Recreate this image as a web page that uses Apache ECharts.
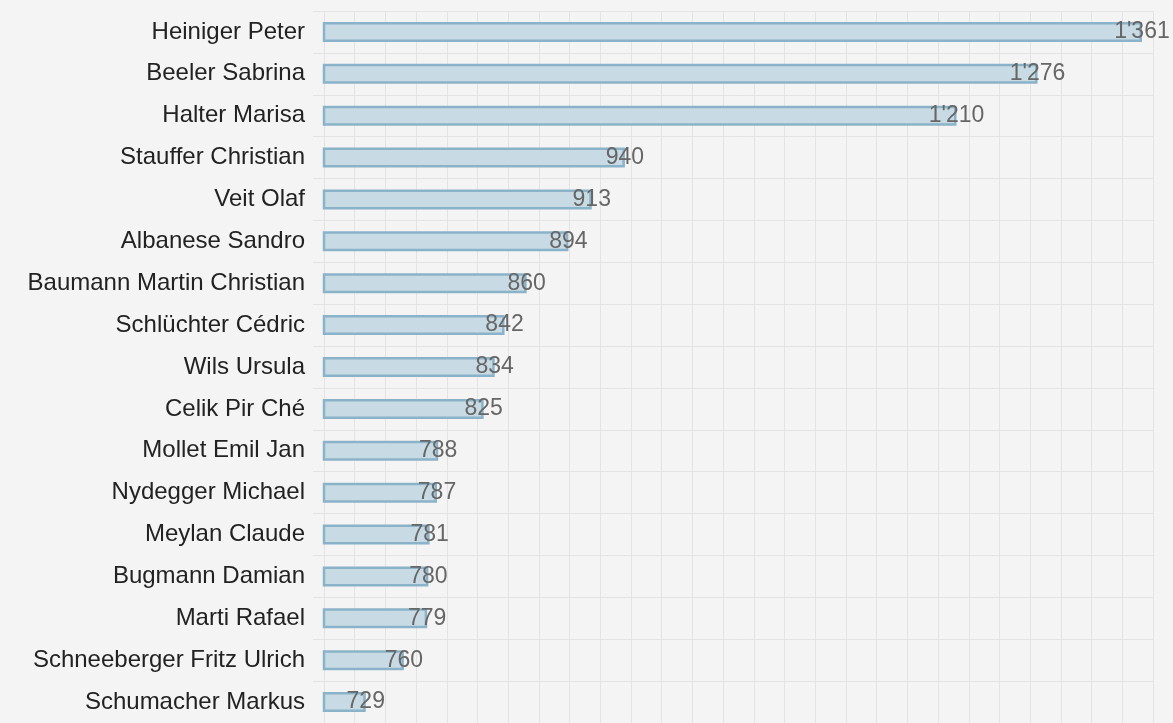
<!DOCTYPE html>
<html>
<head>
<meta charset="utf-8">
<script src="https://cdn.jsdelivr.net/npm/echarts@6/dist/echarts.min.js"></script>
<style>
html,body{margin:0;padding:0;background:#f4f4f4;}
#c{width:1173px;height:723px;}
</style>
</head>
<body>
<div id="c"></div>
<script>
const names = ["Heiniger Peter","Beeler Sabrina","Halter Marisa","Stauffer Christian","Veit Olaf","Albanese Sandro","Baumann Martin Christian","Schlüchter Cédric","Wils Ursula","Celik Pir Ché","Mollet Emil Jan","Nydegger Michael","Meylan Claude","Bugmann Damian","Marti Rafael","Schneeberger Fritz Ulrich","Schumacher Markus"];
const votes = [1361,1276,1210,940,913,894,860,842,834,825,788,787,781,780,779,760,729];
const axisMin = 695, axisMax = 1370, axisStep = 25;

function fmt(v){
  if (v >= 1000) return Math.floor(v/1000) + "'" + String(v % 1000).padStart(3,'0');
  return String(v);
}

const chart = echarts.init(document.getElementById('c'), null, {renderer:'canvas'});
chart.setOption({
  backgroundColor:'#f4f4f4',
  animation:false,
  grid:{left:324, right:20, top:11, bottom:-6, containLabel:false},
  xAxis:{
    type:'value', min:axisMin, max:axisMax, interval:axisStep,
    axisLabel:{show:false}, axisLine:{show:false}, axisTick:{show:false},
    splitLine:{show:true, lineStyle:{color:'#e3e3e3', width:1}}
  },
  yAxis:{
    type:'category', data:names, inverse:true,
    axisLine:{show:false},
    axisTick:{show:true, length:11, lineStyle:{color:'#e3e3e3'}},
    splitLine:{show:true, lineStyle:{color:'#e3e3e3', width:1}},
    axisLabel:{margin:19, color:'#222222', fontSize:24, fontFamily:'Liberation Sans, Arial, sans-serif'}
  },
  series:[{
    type:'bar', data:votes, barWidth:20,
    itemStyle:{color:'#c8dae4', borderColor:'#8ab2c8', borderWidth:2.5},
    label:{
      show:true, position:['100%','50%'], align:'center', verticalAlign:'middle',
      color:'#666666', fontSize:23, fontFamily:'Liberation Sans, Arial, sans-serif',
      formatter:p=>fmt(p.value)
    }
  }]
});
</script>
</body>
</html>
